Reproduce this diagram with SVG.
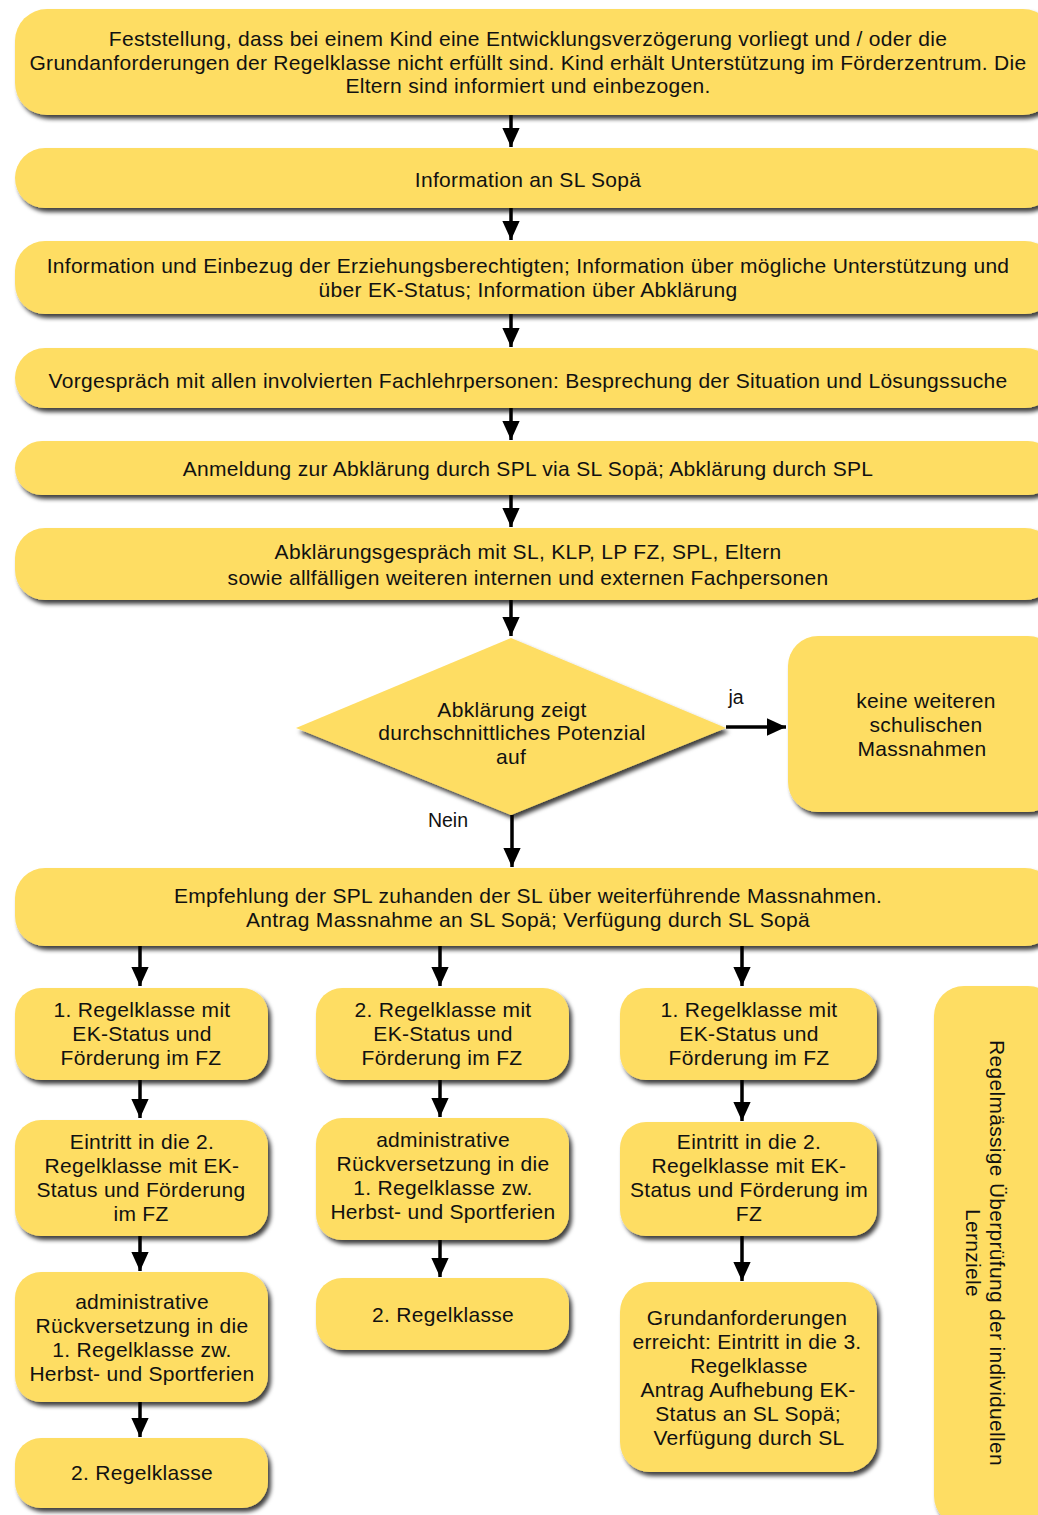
<svg xmlns="http://www.w3.org/2000/svg" width="1038" height="1515" viewBox="0 0 1038 1515">
<style>
.n{fill:#fedd64;filter:url(#sh)}
.t{font-family:"Liberation Sans",Arial,sans-serif;font-size:21px;letter-spacing:0.3px;fill:#111;text-anchor:middle;dominant-baseline:central}
.l{font-family:"Liberation Sans",Arial,sans-serif;font-size:19.5px;fill:#111;text-anchor:middle;dominant-baseline:central}
.c{stroke:#000;stroke-width:3.5;fill:none;marker-end:url(#ah)}
</style>
<defs>
<filter id="sh" x="-10%" y="-10%" width="130%" height="140%">
<feDropShadow dx="3" dy="4" stdDeviation="2" flood-color="#000" flood-opacity="0.75"/>
</filter>
<marker id="ah" markerWidth="6" markerHeight="5" refX="5.5" refY="2.5" orient="auto" markerUnits="strokeWidth">
<path d="M0,0 L5.5,2.5 L0,5 Z" fill="#000"/>
</marker>
</defs>
<rect width="1038" height="1515" fill="#fff"/>
<g id="connectors">
<line class="c" x1="511" y1="115" x2="511" y2="147"/>
<line class="c" x1="511" y1="208" x2="511" y2="240"/>
<line class="c" x1="511" y1="314" x2="511" y2="347"/>
<line class="c" x1="511" y1="408" x2="511" y2="440"/>
<line class="c" x1="511" y1="495" x2="511" y2="527"/>
<line class="c" x1="511" y1="600" x2="511" y2="636"/>
<line class="c" x1="726" y1="727" x2="786" y2="727"/>
<line class="c" x1="512" y1="815" x2="512" y2="867"/>
<line class="c" x1="140" y1="946" x2="140" y2="986"/>
<line class="c" x1="440" y1="946" x2="440" y2="986"/>
<line class="c" x1="742" y1="946" x2="742" y2="986"/>
<line class="c" x1="140" y1="1080" x2="140" y2="1118"/>
<line class="c" x1="140" y1="1236" x2="140" y2="1271"/>
<line class="c" x1="140" y1="1402" x2="140" y2="1437"/>
<line class="c" x1="440" y1="1080" x2="440" y2="1117"/>
<line class="c" x1="440" y1="1240" x2="440" y2="1277"/>
<line class="c" x1="742" y1="1080" x2="742" y2="1121"/>
<line class="c" x1="742" y1="1236" x2="742" y2="1281"/>
<text class="l" x="736" y="697">ja</text>
<text class="l" x="448" y="820">Nein</text>
</g>
<g id="n1"><rect class="n" x="15" y="9" width="1040" height="106" rx="32"/>
<text class="t" x="528" y="38">Feststellung, dass bei einem Kind eine Entwicklungsverzögerung vorliegt und / oder die</text>
<text class="t" x="528" y="62">Grundanforderungen der Regelklasse nicht erfüllt sind. Kind erhält Unterstützung im Förderzentrum. Die</text>
<text class="t" x="528" y="85">Eltern sind informiert und einbezogen.</text></g>
<g id="n2"><rect class="n" x="15" y="148" width="1040" height="60" rx="30"/>
<text class="t" x="528" y="179">Information an SL Sopä</text></g>
<g id="n3"><rect class="n" x="15" y="241" width="1040" height="73" rx="30"/>
<text class="t" x="528" y="265">Information und Einbezug der Erziehungsberechtigten; Information über mögliche Unterstützung und</text>
<text class="t" x="528" y="289">über EK-Status; Information über Abklärung</text></g>
<g id="n4"><rect class="n" x="15" y="348" width="1040" height="60" rx="30"/>
<text class="t" x="528" y="380">Vorgespräch mit allen involvierten Fachlehrpersonen: Besprechung der Situation und Lösungssuche</text></g>
<g id="n5"><rect class="n" x="15" y="441" width="1040" height="54" rx="27"/>
<text class="t" x="528" y="468">Anmeldung zur Abklärung durch SPL via SL Sopä; Abklärung durch SPL</text></g>
<g id="n6"><rect class="n" x="15" y="528" width="1040" height="72" rx="30"/>
<text class="t" x="528" y="551">Abklärungsgespräch mit SL, KLP, LP FZ, SPL, Eltern</text>
<text class="t" x="528" y="577">sowie allfälligen weiteren internen und externen Fachpersonen</text></g>
<g id="d1"><polygon class="n" points="511,638 726,728 511,815 296,728"/>
<text class="t" x="512" y="709">Abklärung zeigt</text>
<text class="t" x="512" y="732">durchschnittliches Potenzial</text>
<text class="t" x="511" y="756">auf</text></g>
<g id="n7"><rect class="n" x="788" y="636" width="270" height="176" rx="30"/>
<text class="t" x="926" y="700">keine weiteren</text>
<text class="t" x="926" y="724">schulischen</text>
<text class="t" x="922" y="748">Massnahmen</text></g>
<g id="n8"><rect class="n" x="15" y="868" width="1040" height="78" rx="30"/>
<text class="t" x="528" y="895">Empfehlung der SPL zuhanden der SL über weiterführende Massnahmen.</text>
<text class="t" x="528" y="919">Antrag Massnahme an SL Sopä; Verfügung durch SL Sopä</text></g>
<g id="a1"><rect class="n" x="15" y="988" width="253" height="92" rx="26"/>
<text class="t" x="142" y="1009">1. Regelklasse mit</text>
<text class="t" x="142" y="1033">EK-Status und</text>
<text class="t" x="141" y="1057">Förderung im FZ</text></g>
<g id="a2"><rect class="n" x="15" y="1120" width="253" height="116" rx="26"/>
<text class="t" x="142" y="1141">Eintritt in die 2.</text>
<text class="t" x="142" y="1165">Regelklasse mit EK-</text>
<text class="t" x="141" y="1189">Status und Förderung</text>
<text class="t" x="141" y="1213">im FZ</text></g>
<g id="a3"><rect class="n" x="15" y="1272" width="253" height="130" rx="26"/>
<text class="t" x="142" y="1301">administrative</text>
<text class="t" x="142" y="1325">Rückversetzung in die</text>
<text class="t" x="142" y="1349">1. Regelklasse zw.</text>
<text class="t" x="142" y="1373">Herbst- und Sportferien</text></g>
<g id="a4"><rect class="n" x="15" y="1438" width="253" height="70" rx="26"/>
<text class="t" x="142" y="1472">2. Regelklasse</text></g>
<g id="b1"><rect class="n" x="316" y="988" width="253" height="92" rx="26"/>
<text class="t" x="443" y="1009">2. Regelklasse mit</text>
<text class="t" x="443" y="1033">EK-Status und</text>
<text class="t" x="442" y="1057">Förderung im FZ</text></g>
<g id="b2"><rect class="n" x="316" y="1118" width="253" height="122" rx="26"/>
<text class="t" x="443" y="1139">administrative</text>
<text class="t" x="443" y="1163">Rückversetzung in die</text>
<text class="t" x="443" y="1187">1. Regelklasse zw.</text>
<text class="t" x="443" y="1211">Herbst- und Sportferien</text></g>
<g id="b3"><rect class="n" x="316" y="1278" width="253" height="72" rx="26"/>
<text class="t" x="443" y="1314">2. Regelklasse</text></g>
<g id="c1"><rect class="n" x="620" y="988" width="257" height="92" rx="26"/>
<text class="t" x="749" y="1009">1. Regelklasse mit</text>
<text class="t" x="749" y="1033">EK-Status und</text>
<text class="t" x="749" y="1057">Förderung im FZ</text></g>
<g id="c2"><rect class="n" x="620" y="1122" width="257" height="114" rx="26"/>
<text class="t" x="749" y="1141">Eintritt in die 2.</text>
<text class="t" x="749" y="1165">Regelklasse mit EK-</text>
<text class="t" x="749" y="1189">Status und Förderung im</text>
<text class="t" x="749" y="1213">FZ</text></g>
<g id="c3"><rect class="n" x="620" y="1282" width="257" height="190" rx="30"/>
<text class="t" x="747" y="1317">Grundanforderungen</text>
<text class="t" x="747" y="1341">erreicht: Eintritt in die 3.</text>
<text class="t" x="749" y="1365">Regelklasse</text>
<text class="t" x="748" y="1389">Antrag Aufhebung EK-</text>
<text class="t" x="748" y="1413">Status an SL Sopä;</text>
<text class="t" x="749" y="1437">Verfügung durch SL</text></g>
<g id="r1"><rect class="n" x="934" y="986" width="124" height="540" rx="30"/>
<g transform="translate(985,1253) rotate(90)">
<text class="t" x="0" y="-12">Regelmässige Überprüfung der individuellen</text>
<text class="t" x="0" y="12">Lernziele</text></g></g>
</svg>
